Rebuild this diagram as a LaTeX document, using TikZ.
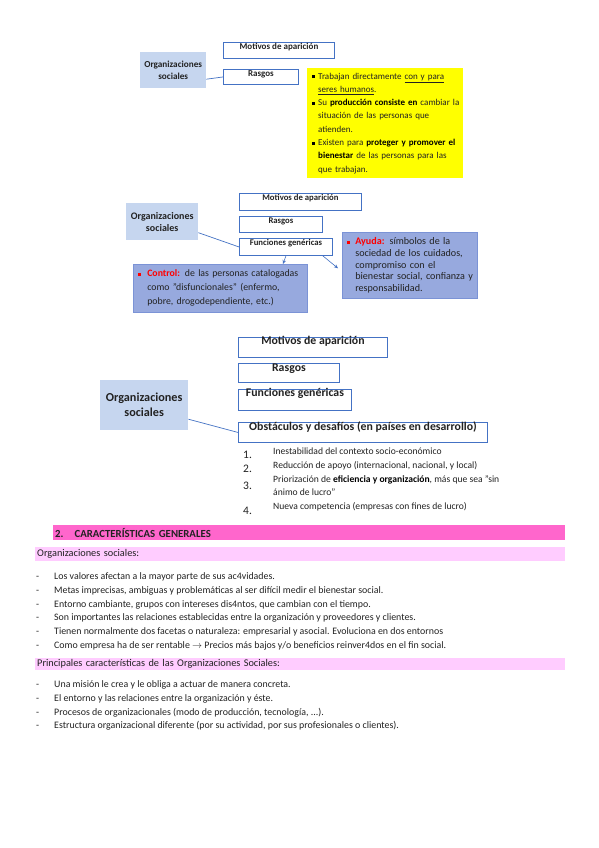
\documentclass[tikz,border=0pt]{standalone}
\usepackage{fontspec}
\setmainfont{Carlito}
\usetikzlibrary{arrows.meta,calc}
\definecolor{bblue}{HTML}{4472C4}
\definecolor{osfill}{HTML}{C6D6EF}
\definecolor{funfill}{HTML}{97A9DE}
\definecolor{funedge}{HTML}{7B93D6}
\definecolor{ylw}{HTML}{FFFF00}
\definecolor{pinkA}{HTML}{FF66CC}
\definecolor{pinkB}{HTML}{FFCCFF}
\definecolor{txt}{HTML}{222222}
\definecolor{redt}{HTML}{FF0000}
\newcommand{\sqb}[1]{\raisebox{0.8pt}{\color{#1}\rule{2.8pt}{2.8pt}}}
\newcommand{\bk}[1]{\textbf{\color{black}#1}}
\newcommand{\dashitem}[1]{\makebox[18pt][l]{-}#1}
\begin{document}
\begin{tikzpicture}[x=1pt,y=-1pt,
  osbox/.style={fill=osfill, anchor=north west, align=center, inner sep=0pt, text=txt},
  tbox/.style={draw=bblue, line width=0.9pt, fill=white, anchor=north west, inner xsep=1pt, inner ysep=0pt, text=txt},
  link/.style={draw=bblue, line width=0.7pt},
  arr/.style={draw=bblue, line width=0.6pt, -{Stealth[length=4pt,width=3.5pt]}},
  fbox/.style={fill=funfill, draw=funedge, line width=0.6pt, anchor=north west, align=left, inner xsep=4pt, inner ysep=2pt, text=txt},
  lst/.style={anchor=base west, inner sep=0pt, font=\fontsize{9.9}{11}\selectfont, text=txt},
  num/.style={anchor=base west, inner sep=0pt, font=\fontsize{11.5}{12}\selectfont, text=txt},
  obl/.style={anchor=base west, inner sep=0pt, font=\fontsize{9.6}{11}\selectfont, text=txt},
  bar/.style={anchor=north west, inner xsep=1pt, inner ysep=0pt, align=left, text=txt}
]
\useasboundingbox (0,0) rectangle (599,848);
\fill[white] (0,0) rectangle (599,848);

% ---------- top diagram ----------
\node[osbox, minimum width=66pt, minimum height=36pt, font=\bfseries\fontsize{9.2}{12}\selectfont] (os1) at (140,52) {Organizaciones\\sociales};
\node[tbox, minimum width=111pt, text height=7pt, text depth=9pt, font=\bfseries\fontsize{9}{10}\selectfont] (mot1) at (223,42) {Motivos de aparición};
\node[tbox, minimum width=75pt, text height=7pt, text depth=8pt, font=\bfseries\fontsize{9}{10}\selectfont] (ras1) at (223,69) {Rasgos};
\draw[link] (os1.east) ++(0,9) -- (ras1.west);
\node[fill=ylw, anchor=north west, text width=150pt, inner xsep=3pt, inner ysep=2pt, minimum height=110pt, align=left, font=\fontsize{9}{13.3}\selectfont, text=txt] (yl) at (307,68) {%
\hangindent=8pt\hangafter=1\noindent\makebox[8pt][l]{\hspace{2pt}\sqb{black}}Trabajan directamente \underline{con y para}\newline\underline{seres humanos}.\par
\hangindent=8pt\hangafter=1\noindent\makebox[8pt][l]{\hspace{2pt}\sqb{black}}Su \bk{producción consiste en} cambiar la\newline situación de las personas que\newline atienden.\par
\hangindent=8pt\hangafter=1\noindent\makebox[8pt][l]{\hspace{2pt}\sqb{black}}Existen para \bk{proteger y promover el}\newline\bk{bienestar} de las personas para las\newline que trabajan.\par};

% ---------- middle diagram ----------
\node[osbox, minimum width=72pt, minimum height=37pt, font=\bfseries\fontsize{10}{12}\selectfont] (os2) at (126,203) {Organizaciones\\sociales};
\node[tbox, minimum width=122pt, text height=7pt, text depth=10pt, font=\bfseries\fontsize{8.7}{10}\selectfont] (mot2) at (239,193) {Motivos de aparición};
\node[tbox, minimum width=83pt, text height=7pt, text depth=9pt, font=\bfseries\fontsize{8.7}{10}\selectfont] (ras2) at (239,216) {Rasgos};
\node[tbox, minimum width=93pt, text height=7.5pt, text depth=9.5pt, font=\bfseries\fontsize{8.7}{10}\selectfont] (fun2) at (239,238) {Funciones genéricas};
\draw[link] (os2.east) ++(0,11) -- (fun2.west);
\node[fbox, text width=166pt, minimum height=48pt, font=\fontsize{9.8}{14}\selectfont] (ctl) at (133,264) {%
\hangindent=10pt\hangafter=1\noindent\makebox[10pt][l]{\hspace{1pt}\sqb{redt}}\textbf{\color{redt}Control:} de las personas catalogadas\newline como "disfuncionales" (enfermo,\newline pobre, drogodependiente, etc.)\par};
\node[fbox, text width=129pt, inner xsep=3pt, minimum height=66pt, font=\fontsize{10.1}{11.7}\selectfont] (ayu) at (342,232) {%
\hangindent=10pt\hangafter=1\noindent\makebox[10pt][l]{\hspace{2pt}\sqb{redt}}\mbox{\textbf{\color{redt}Ayuda:} símbolos de la}\newline\mbox{sociedad de los cuidados,}\newline\mbox{compromiso con el}\newline\mbox{bienestar social, confianza y}\newline\mbox{responsabilidad.}\par};
\draw[arr] (fun2.south) -- ($(ctl.north -| fun2.south)+(-3,0)$);
\draw[arr] ($(fun2.south east)+(-10,0)$) -- ($(ayu.west)+(-4,3)$);

% ---------- bottom diagram ----------
\node[osbox, minimum width=88pt, minimum height=50pt, font=\bfseries\fontsize{12.2}{15}\selectfont] (os3) at (100,380) {Organizaciones\\sociales};
\node[tbox, minimum width=149pt, text height=7.5pt, text depth=12.5pt, font=\bfseries\fontsize{11.8}{12}\selectfont] (mot3) at (238,337) {Motivos de aparición};
\node[tbox, minimum width=101pt, text height=8pt, text depth=11pt, font=\bfseries\fontsize{11.8}{12}\selectfont] (ras3) at (238,363) {Rasgos};
\node[tbox, minimum width=113pt, text height=7.5pt, text depth=13.5pt, font=\bfseries\fontsize{11.8}{12}\selectfont] (fun3) at (238,389) {Funciones genéricas};
\node[tbox, minimum width=249pt, text height=8.5pt, text depth=11.5pt, font=\bfseries\fontsize{11.8}{12}\selectfont] (obs3) at (238,422) {Obstáculos y desafíos (en países en desarrollo)};
\draw[link] (os3.east) ++(0,14) -- (obs3.west);
\node[num] (n1) at (243,458) {1.};
\node[num] (n2) at (243,472) {2.};
\node[num] (n3) at (243,489) {3.};
\node[num] (n4) at (243,514) {4.};
\node[obl] (o1) at (273,454) {Inestabilidad del contexto socio-económico};
\node[obl] (o2) at (273,468) {Reducción de apoyo (internacional, nacional, y local)};
\node[obl] (o3) at (273,482) {Priorización de \bk{eficiencia y organización}, más que sea "sin};
\node[obl] (o3b) at (273,495) {ánimo de lucro"};
\node[obl] (o4) at (273,509) {Nueva competencia (empresas con fines de lucro)};

% ---------- section ----------
\node[bar, fill=pinkA, minimum width=512pt, minimum height=15pt, text width=508pt, font=\bfseries\fontsize{10.8}{12}\selectfont] (hd) at (53,525) {2.\hspace{11pt}CARACTERÍSTICAS GENERALES};
\node[bar, fill=pinkB, minimum width=530pt, minimum height=14pt, text width=526pt, font=\fontsize{10.3}{11}\selectfont] (sb1) at (35,547) {Organizaciones sociales:};
\node[lst] (a1) at (36,579) {\dashitem{Los valores afectan a la mayor parte de sus ac4vidades.}};
\node[lst] (a2) at (36,593) {\dashitem{Metas imprecisas, ambiguas y problemáticas al ser difícil medir el bienestar social.}};
\node[lst] (a3) at (36,607) {\dashitem{Entorno cambiante, grupos con intereses dis4ntos, que cambian con el tiempo.}};
\node[lst] (a4) at (36,620) {\dashitem{Son importantes las relaciones establecidas entre la organización y proveedores y clientes.}};
\node[lst] (a5) at (36,634) {\dashitem{Tienen normalmente dos facetas o naturaleza: empresarial y asocial. Evoluciona en dos entornos}};
\node[lst] (a6) at (36,648) {\dashitem{Como empresa ha de ser rentable $\rightarrow$ Precios más bajos y/o beneficios reinver4dos en el fin social.}};
\node[bar, fill=pinkB, minimum width=530pt, minimum height=12pt, text width=526pt, font=\fontsize{10.3}{11}\selectfont] (sb2) at (35,658) {Principales características de las Organizaciones Sociales:};
\node[lst] (b1) at (36,687) {\dashitem{Una misión le crea y le obliga a actuar de manera concreta.}};
\node[lst] (b2) at (36,701) {\dashitem{El entorno y las relaciones entre la organización y éste.}};
\node[lst] (b3) at (36,715) {\dashitem{Procesos de organizacionales (modo de producción, tecnología, ...).}};
\node[lst] (b4) at (36,728) {\dashitem{Estructura organizacional diferente (por su actividad, por sus profesionales o clientes).}};
\end{tikzpicture}
\end{document}
